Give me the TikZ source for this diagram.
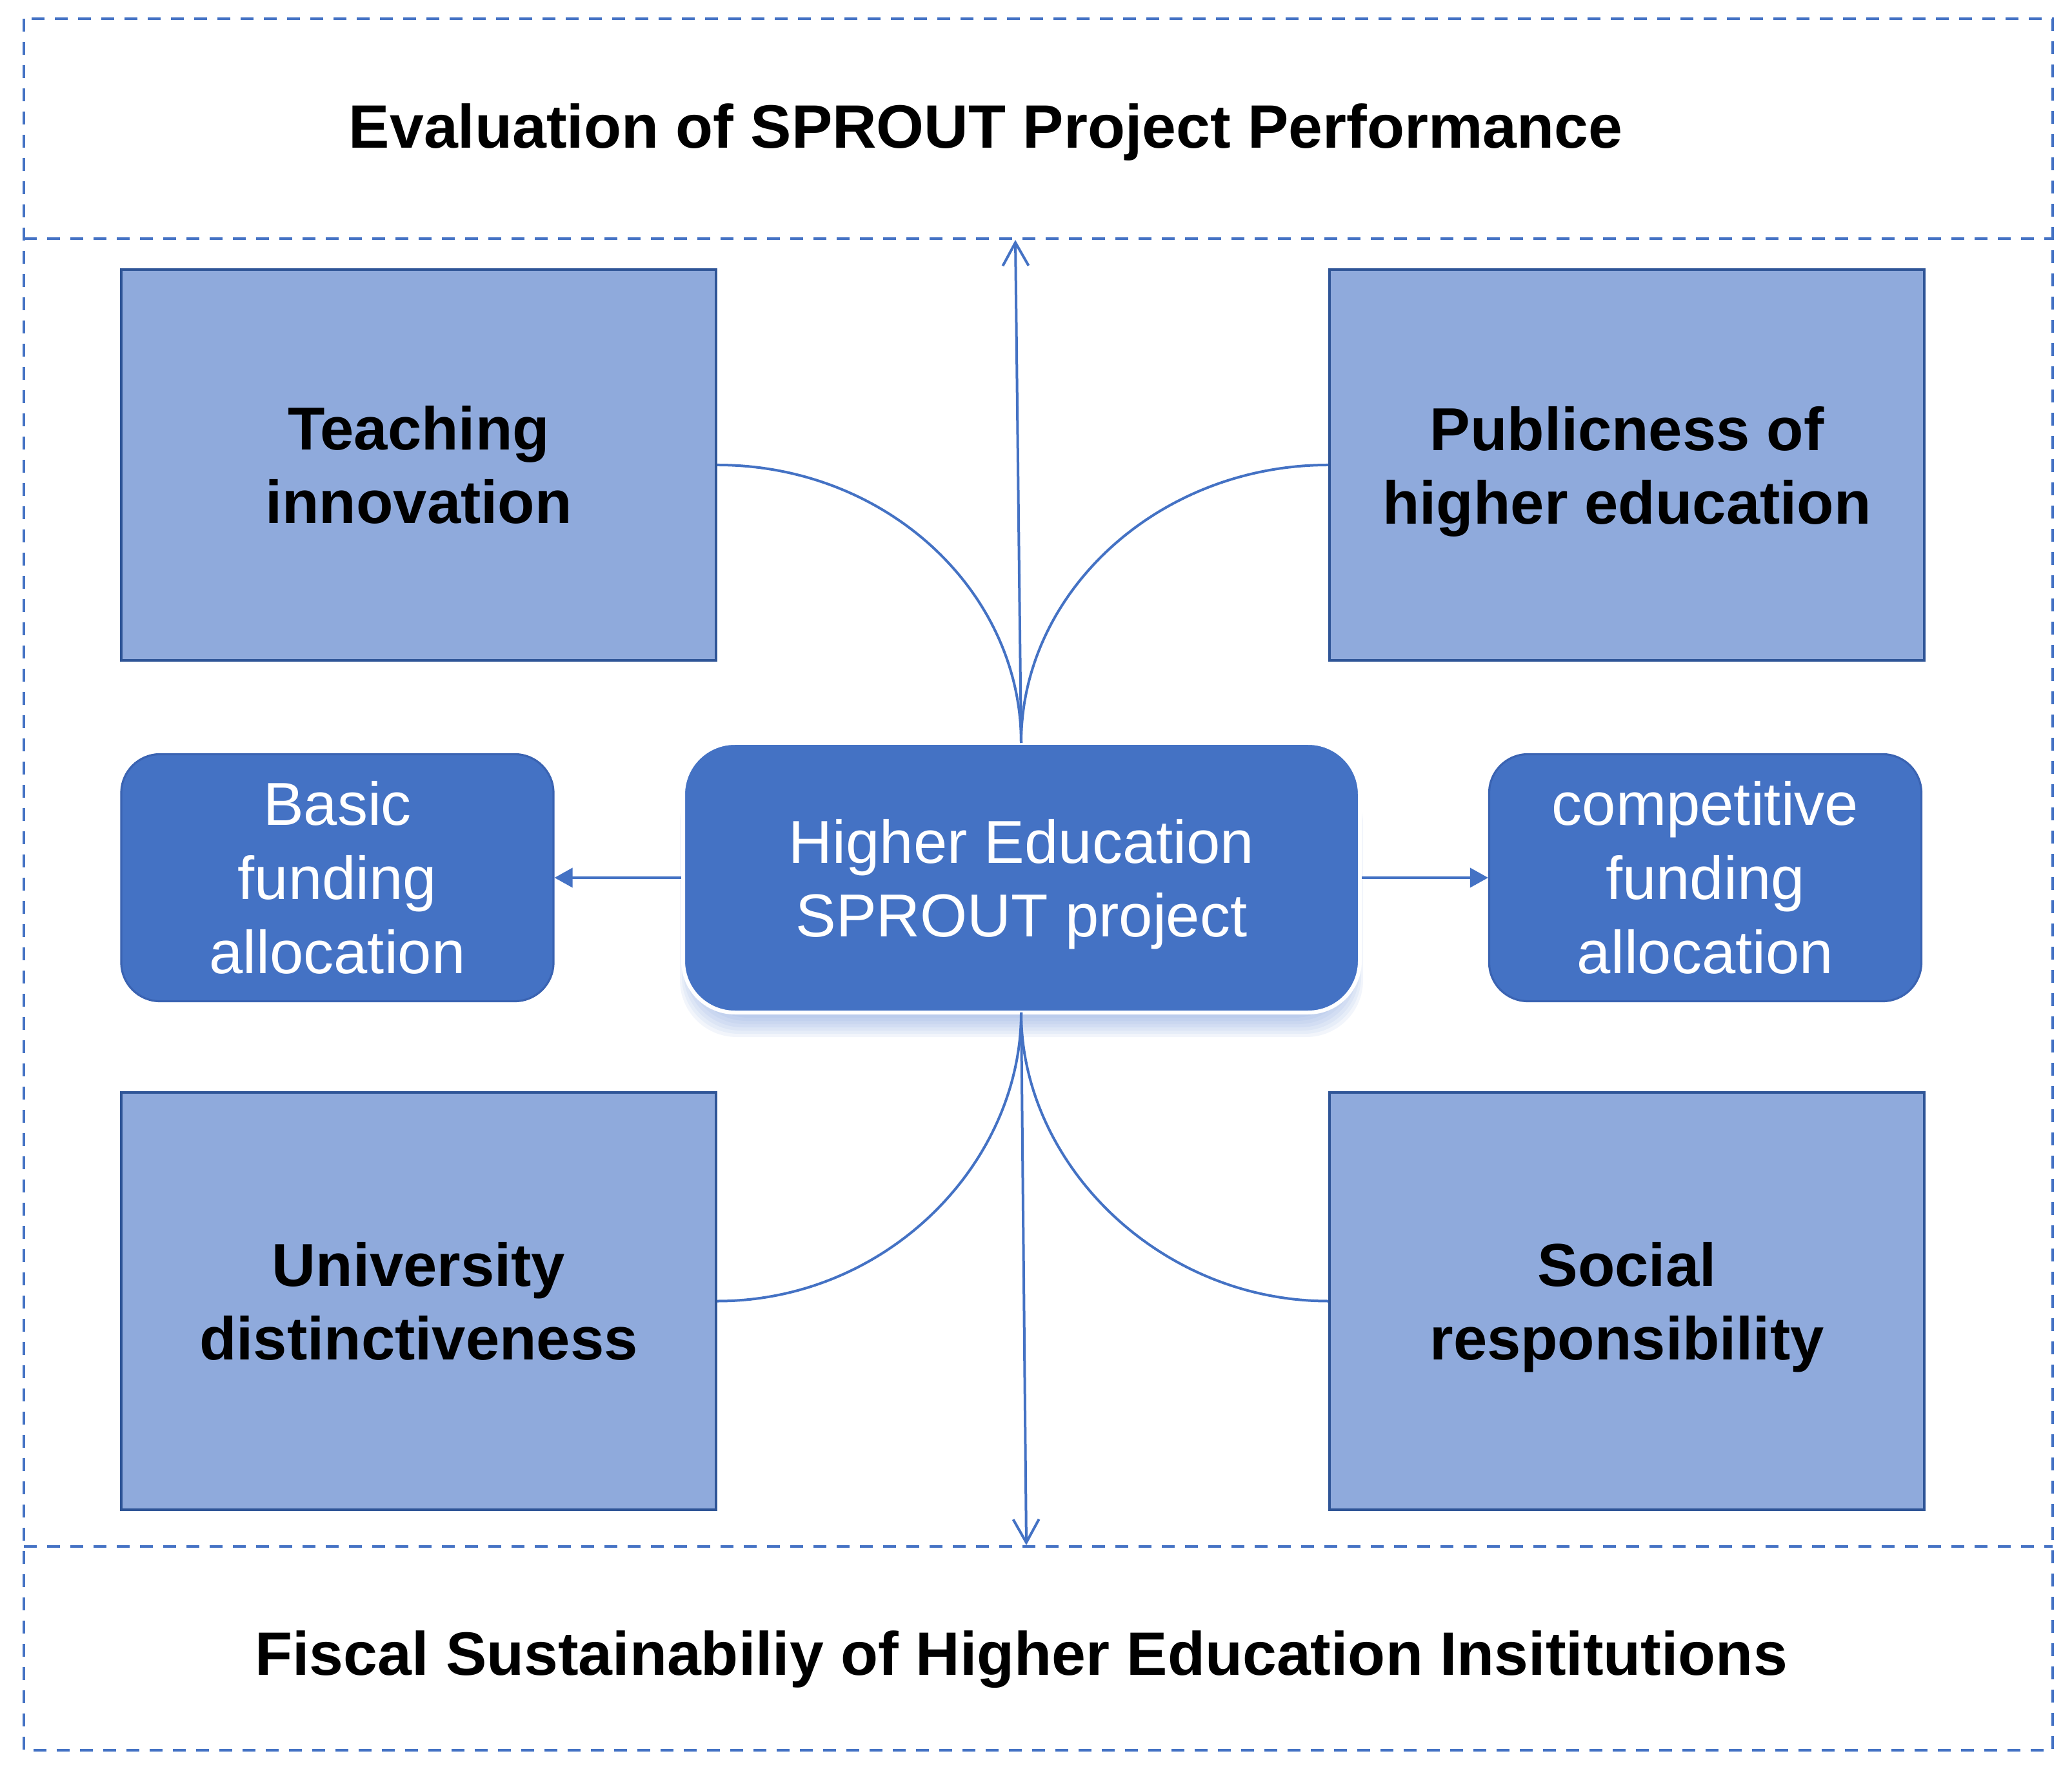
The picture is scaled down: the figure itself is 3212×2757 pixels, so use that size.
\documentclass[tikz,border=0pt]{standalone}
\usepackage{fontspec}
\setmainfont{Liberation Sans}
\usetikzlibrary{arrows.meta}
\definecolor{lightbox}{HTML}{8FAADC}
\definecolor{boxline}{HTML}{2F5597}
\definecolor{darkbox}{HTML}{4472C4}
\definecolor{darkline}{HTML}{3A63B2}
\definecolor{linkblue}{HTML}{4472C4}
\definecolor{shadowblue}{HTML}{7F9FDC}
\newcommand{\nodepth}[1]{\raisebox{0pt}[\height][0pt]{#1}}
\begin{document}
\begin{tikzpicture}[x=0.25pt,y=-0.25pt,
  lightrect/.style={draw=boxline,line width=1pt,fill=lightbox,minimum width=230.5pt,
    align=center,inner sep=0pt,
    font=\bfseries\fontsize{23.5pt}{28.5pt}\selectfont},
  fundbox/.style={draw=darkline,line width=0.8pt,fill=darkbox,rounded corners=15pt,
    minimum width=167.5pt,minimum height=95.75pt,align=center,inner sep=0pt,text=white,
    font=\fontsize{23.5pt}{28.75pt}\selectfont},
  corebox/.style={draw=white,line width=1.5pt,fill=darkbox,rounded corners=20pt,
    minimum width=262.25pt,minimum height=104.5pt,align=center,inner sep=0pt,text=white,
    font=\fontsize{23.5pt}{28.5pt}\selectfont},
  glow/.style={fill=shadowblue,opacity=0.1,rounded corners=22pt},
  headtext/.style={font=\bfseries\fontsize{23.75pt}{28pt}\selectfont,inner sep=0pt,anchor=base},
  zoneline/.style={draw=linkblue,line width=1pt,dash pattern=on 5pt off 4pt},
  curvelink/.style={draw=linkblue,line width=1pt},
  vlink/.style={draw=linkblue,line width=1pt,-{Straight Barb[length=9pt,width=10pt,line width=1pt]}},
  hlink/.style={draw=linkblue,line width=1pt,-{Triangle[length=7pt,width=7.5pt]}}
]
\useasboundingbox (0,0) rectangle (3212,2757);

% zones
\draw[zoneline] (37,29) rectangle (3182,2714);
\draw[zoneline] (37,370) -- (3182,370);
\draw[zoneline] (37,2398) -- (3182,2398);

\node[headtext] (evaltitle) at (1528,230) {Evaluation of SPROUT Project Performance};
\node[headtext] (fisctitle) at (1583,2597) {Fiscal Sustainabiliy of Higher Education Insititutions};

% boxes
\node[lightrect,minimum height=151.5pt] (teach) at (649,721) {Teaching\\innovation};
\node[lightrect,minimum height=151.5pt] (public) at (2522,721) {Publicness of\\\nodepth{higher education}};
\node[lightrect,minimum height=161.75pt] (univ) at (649,2017.5) {University\\distinctiveness};
\node[lightrect,minimum height=161.75pt] (social) at (2522,2017.5) {Social\\\nodepth{responsibility}};

\node[fundbox] (basic) at (523,1361) {Basic\\funding\\allocation};
\node[fundbox] (compet) at (2643.5,1361) {competitive\\funding\\allocation};

% soft shadow of the core box
\foreach \k in {0,...,6}
  \fill[glow] (1072-3*\k,1190) rectangle (2095+3*\k,1578+5*\k);

\node[corebox] (core) at (1583.5,1361) {Higher Education\\\nodepth{SPROUT project}};

\coordinate (ctop) at (1583,1152);
\coordinate (cbot) at (1583,1570);
\coordinate (evaltip) at (1574,372);
\coordinate (fisctip) at (1591,2396);

% curves
\draw[curvelink] (teach.east) .. controls +(262,0) and +(0,-235) .. (ctop);
\draw[curvelink] (public.west) .. controls +(-262,0) and +(0,-235) .. (ctop);
\draw[curvelink] (univ.east) .. controls +(262,0) and +(0,235) .. (cbot);
\draw[curvelink] (social.west) .. controls +(-262,0) and +(0,235) .. (cbot);

% arrows
\draw[vlink] (ctop) -- (evaltip);
\draw[vlink] (cbot) -- (fisctip);
\draw[hlink] (core.west) -- (basic.east);
\draw[hlink] (core.east) -- (compet.west);
\end{tikzpicture}
\end{document}
